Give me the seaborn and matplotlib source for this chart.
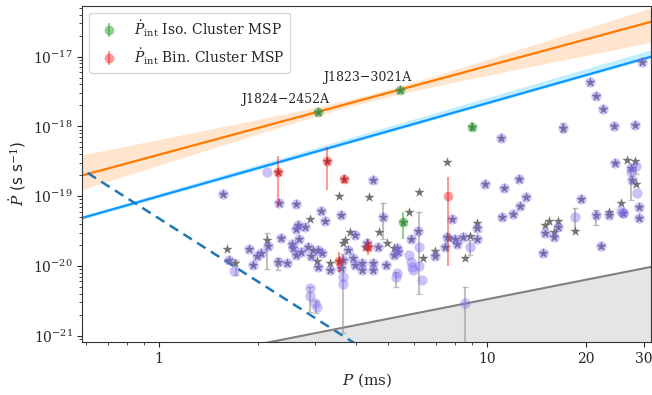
import numpy as np
import matplotlib
matplotlib.use("Agg")
import matplotlib.pyplot as plt
import seaborn as sns
from matplotlib.ticker import NullFormatter, FixedLocator

# field MSPs where observed (star) and intrinsic (circle) Pdot sit on top of each other
both_p = [1.57, 1.63, 2.33, 2.61, 4.48, 3.11, 3.20, 3.60, 2.65, 2.62, 2.79, 2.35, 2.15,
          1.88, 2.05, 1.99, 1.94, 2.30, 2.45, 2.54, 2.68, 2.56, 2.62, 2.72, 2.85, 2.90,
          3.06, 3.15, 3.06, 3.32, 3.63, 3.60, 3.76, 3.96, 3.91, 3.96, 4.17, 4.15, 4.48,
          4.50, 4.66, 4.81, 4.32, 4.92, 5.20, 5.30, 5.35, 5.85, 6.17, 7.57, 7.45, 11.0,
          9.87, 11.3, 12.55, 13.1, 12.6, 11.1, 12.0, 7.8, 8.1, 7.98, 8.47, 9.35, 9.35,
          6.93, 14.8, 15.0, 16.0, 16.4, 19.4, 21.5, 22.2, 23.5, 20.6, 21.5, 22.6, 24.4,
          28.3, 29.6, 17.0, 24.5, 27.4, 27.6, 29.0, 29.0, 25.9]
both_pdot = [1.07e-19, 1.22e-20, 7.9e-20, 7.7e-20, 1.71e-19, 6.2e-20, 4.4e-20, 5.3e-20,
             3.9e-20, 3.4e-20, 3.6e-20, 2.55e-20, 1.93e-20, 1.75e-20, 1.52e-20, 1.40e-20,
             1.02e-20, 1.14e-20, 1.12e-20, 2.04e-20, 2.41e-20, 1.80e-20, 1.44e-20, 1.60e-20,
             1.85e-20, 1.40e-20, 1.70e-20, 1.52e-20, 9.8e-21, 8.8e-21, 1.22e-20, 9.3e-21,
             1.7e-20, 2.8e-20, 1.29e-20, 1.03e-20, 1.09e-20, 8.8e-21, 1.09e-20, 8.8e-21,
             1.85e-20, 5.1e-20, 2.14e-20, 1.03e-20, 1.44e-20, 1.8e-20, 1.6e-20, 2.41e-20,
             3.2e-20, 2.6e-20, 1.85e-20, 6.8e-19, 1.5e-19, 1.32e-19, 1.77e-19, 9.6e-20,
             7.3e-20, 5.1e-20, 5.5e-20, 4.7e-20, 2.04e-20, 2.41e-20, 2.6e-20, 3.5e-20,
             2.41e-20, 1.4e-20, 1.52e-20, 3.0e-20, 2.6e-20, 3.6e-20, 9.0e-20, 5.3e-20,
             1.93e-20, 5.3e-20, 4.4e-18, 2.7e-18, 1.8e-18, 1.0e-18, 1.05e-18, 8.5e-18,
             9.6e-19, 2.96e-19, 2.5e-19, 1.7e-19, 6.9e-20, 4.8e-20, 5.8e-20]

# observed Pdot only (gray stars)
star_p = [1.61, 1.71, 2.13, 3.54, 4.36, 2.88, 2.95, 3.03, 3.32, 3.65, 3.70, 3.81, 4.68,
          4.26, 4.95, 5.22, 5.77, 6.22, 6.36, 6.93, 7.57, 7.67, 8.87, 8.57, 9.35, 15.0,
          15.4, 16.4, 16.0, 18.5, 23.5, 25.6, 26.7, 28.3, 28.5]
star_pdot = [1.73e-20, 1.12e-20, 2.36e-20, 1.0e-19, 9.6e-20, 4.7e-20, 1.7e-20, 1.19e-20,
             1.12e-20, 2.1e-20, 2.36e-20, 3.1e-20, 3.1e-20, 1.85e-20, 2.1e-20, 1.8e-20,
             5.9e-20, 1.16e-19, 1.29e-20, 1.63e-20, 3.05e-19, 2.55e-20, 2.65e-20, 1.29e-20,
             4.1e-20, 3.8e-20, 4.4e-20, 4.4e-20, 3.1e-20, 3.2e-20, 6.0e-20, 8.1e-20,
             3.3e-19, 3.2e-19, 1.48e-19]

# intrinsic Pdot only (light circles)
circ_p = [2.13, 1.69, 2.89, 2.89, 2.99, 3.04, 3.63, 3.63, 5.80, 5.85, 5.90, 5.95, 5.27,
          5.30, 6.20, 6.20, 6.35, 8.87, 8.57, 18.5, 27.5, 28.5, 28.6, 25.6, 26.0]
circ_pdot = [2.2e-19, 8.6e-21, 4.8e-21, 3.7e-21, 2.93e-21, 2.6e-21, 7.0e-21, 5.6e-21,
             1.44e-20, 1.15e-20, 9.8e-21, 8.8e-21, 6.9e-21, 7.8e-21, 1.88e-20, 1.0e-20,
             6.3e-21, 1.85e-20, 2.9e-21, 5.0e-20, 2.25e-19, 2.75e-19, 1.1e-19, 6.2e-20,
             5.7e-20]

# gray error bars on intrinsic Pdot
err_p = [1.72, 2.13, 2.30, 2.89, 3.02, 3.63, 4.81, 5.27, 6.20, 8.87, 8.57, 17.0, 18.5,
         21.5, 27.5, 28.5]
err_lo = [7.4e-21, 9.0e-21, 8.8e-21, 2.2e-21, 2.1e-21, 1.1e-21, 2.4e-20, 5.0e-21,
          4.0e-21, 1.45e-20, 5e-22, 8.4e-19, 3.3e-20, 3.8e-20, 8.8e-20, 2.1e-19]
err_hi = [1.22e-20, 2.95e-20, 1.3e-20, 5.0e-21, 3.1e-21, 1.5e-20, 7.9e-20, 8.3e-21,
          6.0e-20, 2.36e-20, 5.0e-21, 1.12e-18, 6.7e-20, 6.3e-20, 2.35e-19, 3.3e-19]

# cluster MSPs with intrinsic Pdot
iso_p = [3.05, 5.44, 9.0, 5.56]
iso_pdot = [1.62e-18, 3.38e-18, 9.9e-19, 4.3e-20]
iso_lo = [1.56e-18, 3.28e-18, 8.6e-19, 2.4e-20]
iso_hi = [1.68e-18, 3.48e-18, 1.14e-18, 6.0e-20]
iso_names = ["J1824\u22122452A", "J1823\u22123021A", "", ""]

bin_p = [2.30, 3.25, 3.66, 3.54, 4.35, 7.6]
bin_pdot = [2.25e-19, 3.23e-19, 1.75e-19, 1.19e-20, 1.88e-20, 1.0e-19]
bin_lo = [7.3e-20, 1.23e-19, 1.53e-19, 8.3e-21, 1.45e-20, 1.0e-20]
bin_hi = [3.8e-19, 5.1e-19, 2.0e-19, 1.6e-20, 2.4e-20, 1.9e-19]
bin_obs = [True, True, True, True, True, False]

# model lines
blue_norm, blue_idx = 1.0e-19, 4.0 / 3.0
dash_norm, dash_idx = 4.8e-20, -3.0
gray_norm, gray_idx = 3.93e-22, 0.928
or_pivot, or_s0, or_k, or_tilt = 4.3, 0.05, 0.28, -0.055

plt.rcParams["figure.dpi"] = 100
sns.set_style("ticks")
plt.rcParams["font.family"] = ["DejaVu Serif"]
plt.rcParams["mathtext.fontset"] = "dejavuserif"

fig, ax = plt.subplots(figsize=(6.52, 3.95))
fig.subplots_adjust(left=0.1265, right=0.9985, bottom=0.1334, top=0.9856)
ax.set_xscale("log")
ax.set_yscale("log")

pg = np.geomspace(0.5, 35, 300)
lp = np.log10(pg)

# orange: fit through the two isolated cluster MSPs
n_or = np.log10(iso_pdot[1] / iso_pdot[0]) / np.log10(iso_p[1] / iso_p[0])
l_or = np.log10(iso_pdot[0]) + n_or * (lp - np.log10(iso_p[0]))
d = lp - np.log10(or_pivot)
half = np.sqrt(or_s0 ** 2 + (or_k * d) ** 2)
ax.fill_between(pg, 10 ** (l_or + or_tilt * d - half), 10 ** (l_or + or_tilt * d + half),
                color="tab:orange", alpha=0.2, lw=0)
sns.lineplot(x=pg, y=10 ** l_or, color="#ff7a00", lw=1.6, ax=ax)

# blue solid
blue = blue_norm * pg ** blue_idx
ax.fill_between(pg, blue * 10 ** -0.02, blue * 10 ** (0.03 + 0.04 * (lp + 0.233)),
                color="deepskyblue", alpha=0.25, lw=0)
sns.lineplot(x=pg, y=blue, color="#0d96ff", lw=1.6, ax=ax)

# blue dashed
sns.lineplot(x=pg, y=dash_norm * pg ** dash_idx, color="#1f77b4", lw=1.8, ax=ax)
ax.lines[-1].set_linestyle((0, (4, 2.5)))

# gray line and shaded region
gl = gray_norm * pg ** gray_idx
ax.fill_between(pg, 1e-23, gl, color="0.5", alpha=0.2, lw=0)
sns.lineplot(x=pg, y=gl, color="0.5", lw=1.5, ax=ax)

# error bars on field points
lo = np.array(err_lo)
hi = np.array(err_hi)
ax.errorbar(err_p, lo, yerr=[np.zeros_like(lo), hi - lo], fmt="none",
            ecolor="0.6", alpha=0.6, elinewidth=1.5, capsize=2, zorder=3)

# gray stars (observed)
sp = list(star_p) + list(both_p) + list(iso_p) + [p for p, o in zip(bin_p, bin_obs) if o]
sd = list(star_pdot) + list(both_pdot) + list(iso_pdot) + \
    [v for v, o in zip(bin_pdot, bin_obs) if o]
sns.scatterplot(x=sp, y=sd, marker="*", color="0.45", s=60, linewidth=0, zorder=4, ax=ax)

# lavender circles (intrinsic)
cp = list(circ_p) + list(both_p)
cd = list(circ_pdot) + list(both_pdot)
sns.scatterplot(x=cp, y=cd, marker="o", color="mediumslateblue", alpha=0.4, s=55,
                linewidth=0, zorder=5, ax=ax)

ip, iv = np.array(iso_p), np.array(iso_pdot)
ax.errorbar(ip, iv, yerr=[iv - np.array(iso_lo), np.array(iso_hi) - iv], fmt="o",
            color="tab:green", alpha=0.5, ms=7, mew=0, capsize=2, elinewidth=1.5, zorder=6,
            label=r"$\dot{P}_{\rm int}$ Iso. Cluster MSP")
bp, bv = np.array(bin_p), np.array(bin_pdot)
ax.errorbar(bp, bv, yerr=[bv - np.array(bin_lo), np.array(bin_hi) - bv], fmt="o",
            color="red", alpha=0.4, ms=7, mew=0, capsize=2, elinewidth=1.5, zorder=6,
            label=r"$\dot{P}_{\rm int}$ Bin. Cluster MSP")

for p, v, name in zip(iso_p, iso_pdot, iso_names):
    if name:
        ax.annotate(name, (p, v), xytext=(-23.5, 8.6), textcoords="offset points",
                    ha="center", va="center", fontsize=9)

ax.set_xlim(0.585, 31.6)
ax.set_ylim(8.04e-22, 5.38e-17)
ax.set_xticks([1, 10, 20, 30])
ax.set_xticklabels(["1", "10", "20", "30"])
ax.yaxis.set_major_locator(FixedLocator([1e-21, 1e-20, 1e-19, 1e-18, 1e-17]))
ax.xaxis.set_minor_formatter(NullFormatter())
ax.yaxis.set_minor_formatter(NullFormatter())
ax.tick_params(labelsize=10)
for s in ax.spines.values():
    s.set_visible(True)
    s.set_color("0.2")

ax.set_xlabel(r"$P$ (ms)", fontsize=11)
ax.set_ylabel(r"$\dot{P}$ (s s$^{-1}$)", fontsize=11, family="DejaVu Sans")
ax.legend(loc="upper left", fontsize=10)

fig.savefig("out.png", dpi=100)
